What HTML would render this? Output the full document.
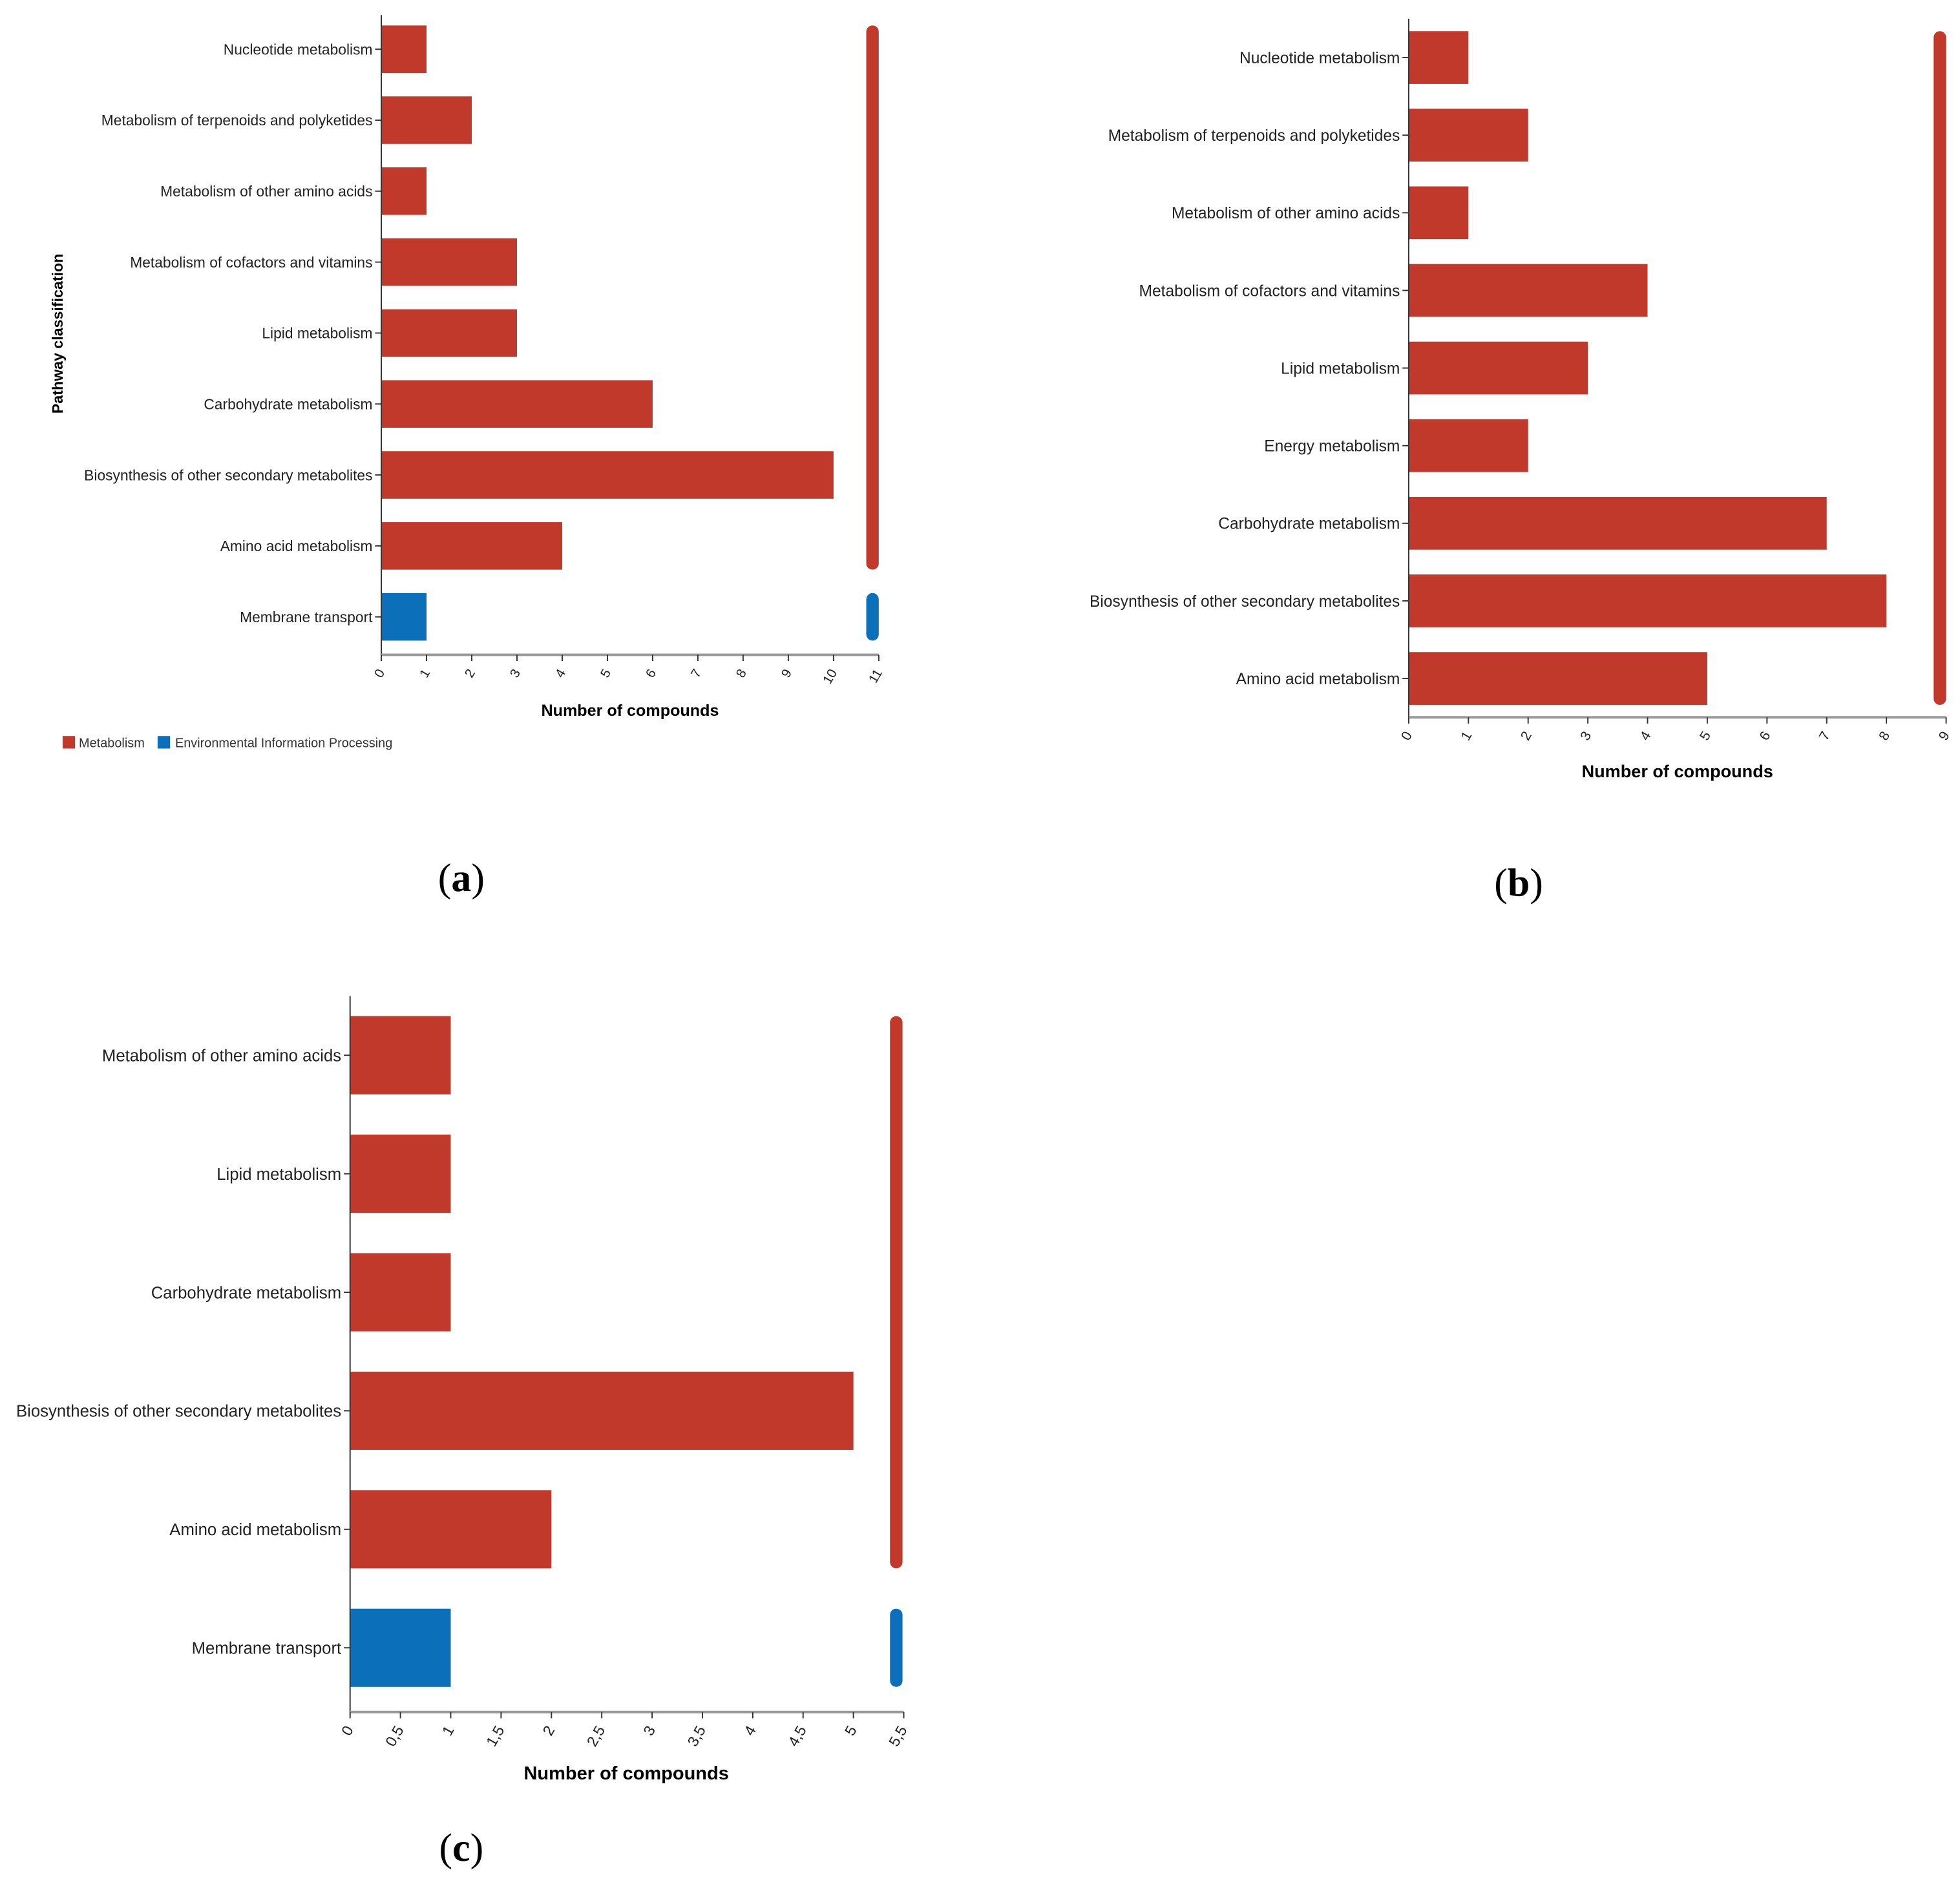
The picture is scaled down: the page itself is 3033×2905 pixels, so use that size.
<!DOCTYPE html>
<html><head><meta charset="utf-8"><style>
html,body{margin:0;padding:0;background:#fff;}
svg{display:block;}
text{font-family:"Liberation Sans",sans-serif;}
text.serif{font-family:"Liberation Serif",serif;}
</style></head><body>
<svg id="fig" width="3033" height="2905" viewBox="0 0 1568 1502" xmlns="http://www.w3.org/2000/svg">
<rect width="1568" height="1502" fill="#fff"/>
<g id="pa"></g>
<g id="pb"></g>
<g id="pc"></g>
<text class="serif" x="369" y="713" font-size="32" text-anchor="middle">(<tspan font-weight="bold">a</tspan>)</text>
<text class="serif" x="1215" y="717" font-size="32" text-anchor="middle">(<tspan font-weight="bold">b</tspan>)</text>
<text class="serif" x="369" y="1489" font-size="32" text-anchor="middle">(<tspan font-weight="bold">c</tspan>)</text>
<text transform="translate(50,267) rotate(-90)" font-size="12" font-weight="bold" text-anchor="middle">Pathway classification</text>
<rect x="50" y="589" width="10" height="10" fill="#c0392b"/>
<text x="63" y="598" font-size="10.3" fill="#333">Metabolism</text>
<rect x="126" y="589" width="10" height="10" fill="#0b6fba"/>
<text x="140" y="598" font-size="10.3" fill="#333">Environmental Information Processing</text>
</svg>
<script>
const catsA=["Nucleotide metabolism","Metabolism of terpenoids and polyketides","Metabolism of other amino acids","Metabolism of cofactors and vitamins","Lipid metabolism","Carbohydrate metabolism","Biosynthesis of other secondary metabolites","Amino acid metabolism","Membrane transport"];
const valsA=[1,2,1,3,3,6,10,4,1];
const groupA=[0,0,0,0,0,0,0,0,1];
const ticksA=["0","1","2","3","4","5","6","7","8","9","10","11"];
const catsB=["Nucleotide metabolism","Metabolism of terpenoids and polyketides","Metabolism of other amino acids","Metabolism of cofactors and vitamins","Lipid metabolism","Energy metabolism","Carbohydrate metabolism","Biosynthesis of other secondary metabolites","Amino acid metabolism"];
const valsB=[1,2,1,4,3,2,7,8,5];
const groupB=[0,0,0,0,0,0,0,0,0];
const ticksB=["0","1","2","3","4","5","6","7","8","9"];
const catsC=["Metabolism of other amino acids","Lipid metabolism","Carbohydrate metabolism","Biosynthesis of other secondary metabolites","Amino acid metabolism","Membrane transport"];
const valsC=[1,1,1,5,2,1];
const groupC=[0,0,0,0,0,1];
const ticksC=["0","0.5","1","1.5","2","2.5","3","3.5","4","4.5","5","5.5"];
const NS="http://www.w3.org/2000/svg";
const COLORS=["#c0392b","#0b6fba"];
function mk(p,tag,a,txt){const e=document.createElementNS(NS,tag);for(const k in a)e.setAttribute(k,a[k]);if(txt!=null)e.textContent=txt;p.appendChild(e);return e;}
function draw(gid,cats,vals,groups,ticks,c){
  const g=document.getElementById(gid);
  const n=cats.length,step=(c.y1-c.y0)/n,bh=step*c.bf;
  const maxT=parseFloat(ticks[ticks.length-1]);
  const xs=v=>c.x0+(c.x1-c.x0)*v/maxT;
  const ys=i=>c.y0+step*(i+0.5);
  cats.forEach((cat,i)=>{
    const r=mk(g,'rect',{x:xs(0),y:ys(i)-bh/2,width:xs(vals[i])-xs(0),height:bh,fill:COLORS[groups[i]]});
    
    
    mk(g,'line',{x1:xs(0)-5,x2:xs(0),y1:ys(i),y2:ys(i),stroke:'#333','stroke-width':1});
    const t=mk(g,'text',{x:xs(0)-7,y:ys(i)+c.fs*0.36,'font-size':c.fs,'text-anchor':'end',fill:'#222'},cat);
    
    
  });
  let start=0;
  for(let i=1;i<=n;i++){
    if(i===n||groups[i]!==groups[start]){
      const yt=ys(start)-bh/2,yb=ys(i-1)+bh/2;
      const s=mk(g,'rect',{x:c.sx,y:yt,width:10,height:yb-yt,rx:5,fill:COLORS[groups[start]]});
      
      
      start=i;
    }
  }
  const ay=mk(g,'line',{x1:xs(0),x2:xs(0),y1:c.top,y2:c.ax,stroke:'#333','stroke-width':1});
  
  
  const axl=mk(g,'line',{x1:xs(0),x2:c.x1,y1:c.ax,y2:c.ax,stroke:'#999','stroke-width':2});
  
  
  ticks.forEach(tk=>{
    const x=xs(parseFloat(tk));
    mk(g,'line',{x1:x,x2:x,y1:c.ax,y2:c.ax+5,stroke:'#333','stroke-width':1});
    const t=mk(g,'text',{transform:`translate(${x+3},${c.ax+14}) rotate(-60)`,'font-size':c.tfs,'text-anchor':'end',fill:'#222'},tk.replace('.',','));
    
    
  });
  const tt=mk(g,'text',{x:c.tx,y:c.ty,'font-size':c.ttfs,'font-weight':'bold','text-anchor':'middle'},'Number of compounds');
  
  
}
draw('pa',catsA,valsA,groupA,ticksA,{x0:305,x1:703,y0:11,y1:522,top:12,ax:524,bf:0.67,sx:693,fs:11.8,tfs:10.5,ttfs:13,tx:504,ty:573});
draw('pb',catsB,valsB,groupB,ticksB,{x0:1127,x1:1557,y0:15,y1:574,top:15,ax:574,bf:0.68,sx:1547,fs:12.7,tfs:11,ttfs:14,tx:1342,ty:622});
draw('pc',catsC,valsC,groupC,ticksC,{x0:280,x1:723,y0:797,y1:1366,top:797,ax:1370,bf:0.66,sx:712,fs:13.3,tfs:12,ttfs:15,tx:501,ty:1424});
</script>
</body></html>
